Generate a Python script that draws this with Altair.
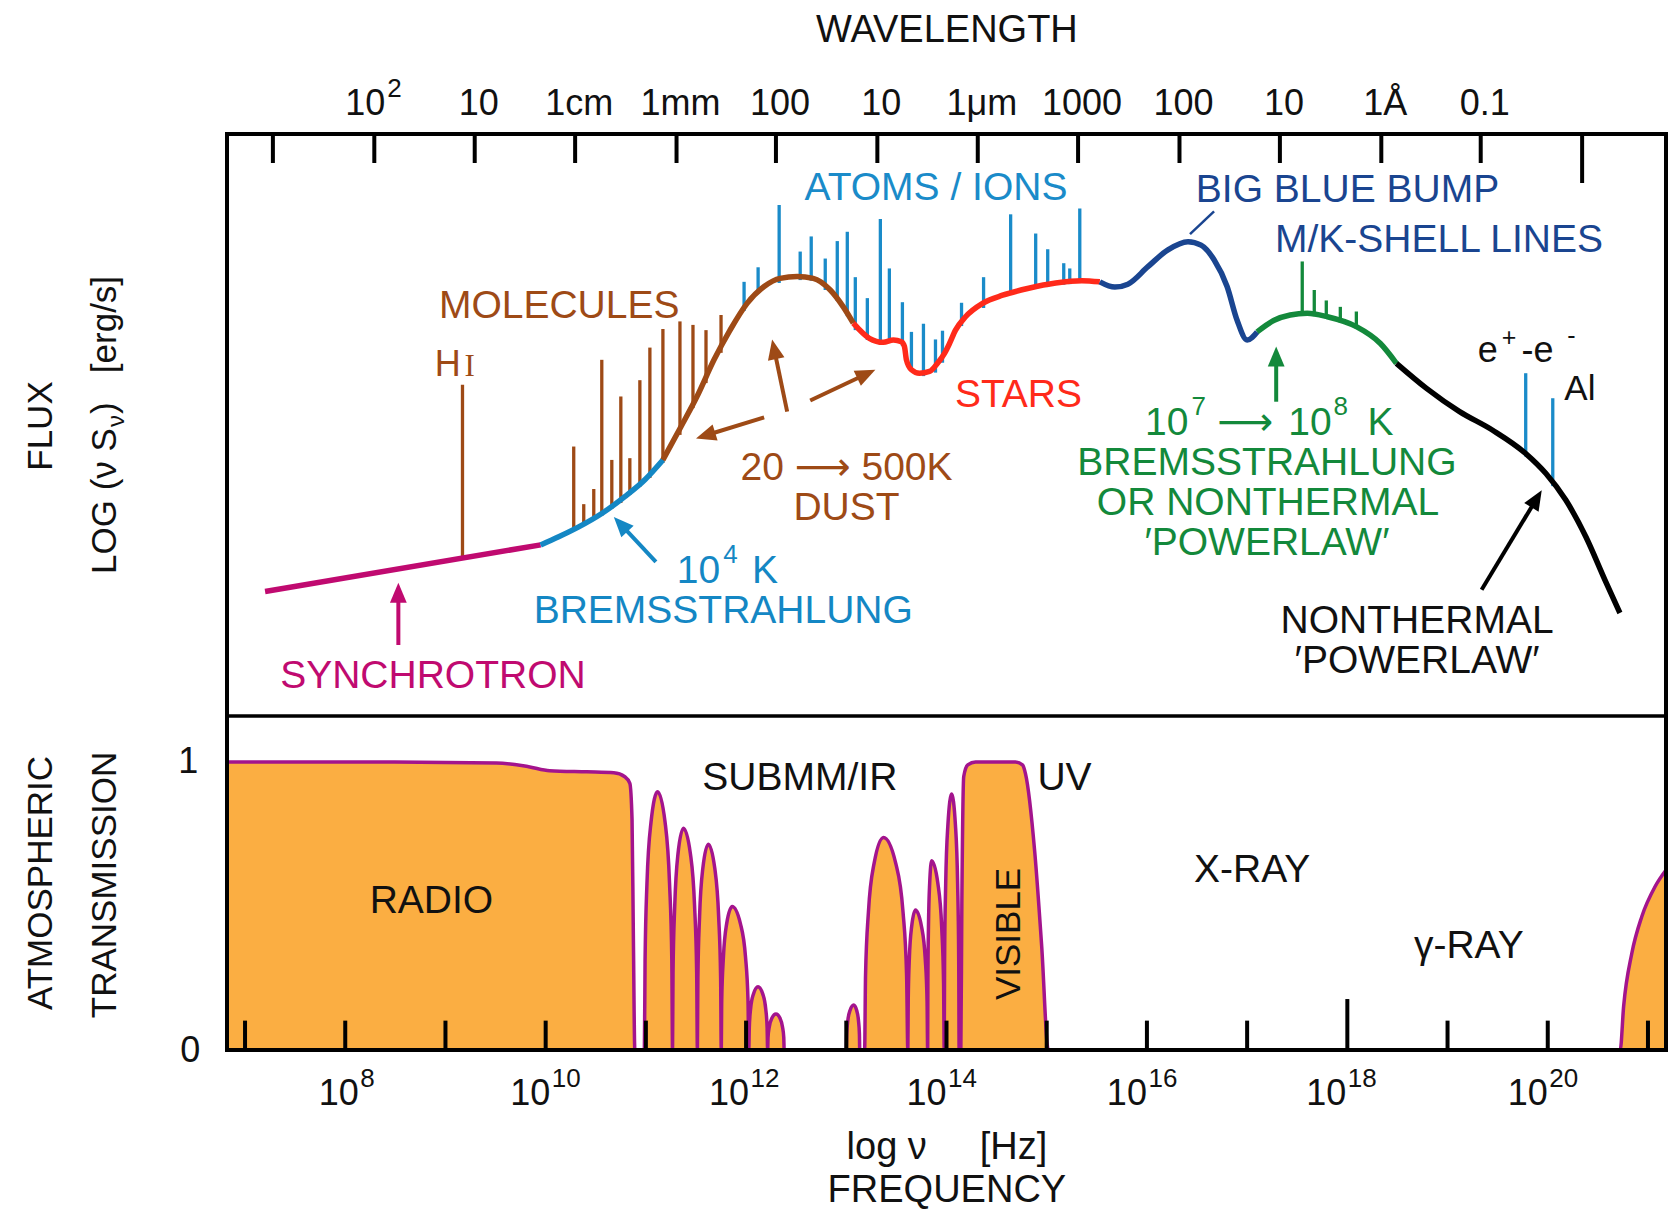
import math
import altair as alt
import pandas as pd

# ---------------- scales / layout ----------------
X_MIN, X_MAX = 6.82, 21.18          # log10 frequency [Hz]
V_MIN, V_MAX = 0.0, 10.0            # upper panel: relative log(nu S_nu), arbitrary units
T_MIN, T_MAX = 0.0, 1.16            # lower panel: atmospheric transmission
W, H, H_UP = 1439, 916, 582

SANS = "Liberation Sans, Arial, Helvetica, DejaVu Sans, sans-serif"
SERIF = "Liberation Serif, Times New Roman, serif"

C_SYN = "#C00A70"
C_BREM = "#1487C4"
C_ION = "#1A8BC9"
C_MOL = "#9E4A16"
C_STAR = "#FF2A1A"
C_BBB = "#1A4590"
C_GRN = "#13893B"
C_BLK = "#111111"
C_FILL = "#FBAE42"
C_EDGE = "#A3148D"

# ---------------- spectrum ----------------
synch_nu = [7.20, 9.95]
synch_f = [2.14, 2.94]
brems_nu = [9.95, 10.13, 10.33, 10.56, 10.79, 10.99, 11.17]
brems_f = [2.94, 3.08, 3.25, 3.48, 3.77, 4.06, 4.40]
dust_nu = [11.17, 11.35, 11.51, 11.68, 11.84, 12.01, 12.18, 12.34, 12.51, 12.67, 12.84, 12.97, 13.07]
dust_f = [4.40, 4.97, 5.49, 6.12, 6.63, 7.09, 7.38, 7.52, 7.55, 7.52, 7.32, 7.03, 6.75]
stars_nu = [13.07, 13.23, 13.37, 13.47, 13.55, 13.58, 13.60, 13.65, 13.73, 13.83, 13.91, 13.98,
            14.03, 14.09, 14.19, 14.36, 14.56, 14.82, 15.09, 15.35, 15.53]
stars_f = [6.75, 6.49, 6.42, 6.46, 6.43, 6.35, 6.12, 5.95, 5.89, 5.92, 6.06, 6.23,
           6.40, 6.63, 6.86, 7.09, 7.23, 7.35, 7.44, 7.48, 7.46]
bbb_nu = [15.53, 15.68, 15.81, 16.01, 16.21, 16.41, 16.54, 16.67, 16.80, 16.90, 17.00, 17.10]
bbb_f = [7.46, 7.37, 7.42, 7.72, 8.01, 8.15, 8.09, 7.84, 7.38, 6.80, 6.46, 6.60]
hot_nu = [17.10, 17.27, 17.43, 17.60, 17.80, 18.09, 18.33, 18.49]
hot_f = [6.60, 6.80, 6.89, 6.92, 6.86, 6.69, 6.40, 6.06]
pl_nu = [18.49, 18.79, 19.12, 19.45, 19.78, 19.98, 20.18, 20.38, 20.57, 20.72]
pl_f = [6.06, 5.63, 5.23, 4.91, 4.51, 4.17, 3.71, 3.08, 2.34, 1.77]

# emission lines: position, top, base
mol_nu = [10.28, 10.38, 10.48, 10.56, 10.66, 10.75, 10.84, 10.94, 11.04, 11.17, 11.34, 11.47, 11.60, 11.75]
mol_top = [4.63, 3.64, 3.90, 6.12, 4.40, 5.49, 4.43, 5.77, 6.33, 6.65, 6.78, 6.72, 6.63, 6.89]
mol_base = [3.18, 3.28, 3.37, 3.44, 3.56, 3.66, 3.80, 3.94, 4.09, 4.35, 4.83, 5.29, 5.72, 6.24]
hi_nu = [9.17]
hi_top = [5.69]
hi_base = [2.72]
ion_nu = [11.98, 12.12, 12.33, 12.54, 12.65, 12.79, 12.91, 13.01, 13.09, 13.21, 13.34, 13.43, 13.56,
          13.65, 13.77, 13.89, 13.96, 14.15, 14.37, 14.64, 14.89, 15.01, 15.17, 15.23, 15.33]
ion_top = [7.46, 7.71, 8.78, 7.98, 8.24, 7.86, 8.16, 8.32, 7.54, 7.18, 8.54, 7.69, 7.11,
           6.60, 6.74, 6.47, 6.62, 7.10, 7.54, 8.62, 8.29, 8.02, 7.78, 7.69, 8.72]
ion_base = [6.96, 7.27, 7.44, 7.49, 7.48, 7.32, 7.13, 6.87, 6.63, 6.46, 6.38, 6.41, 6.36,
            5.95, 5.84, 5.90, 6.07, 6.70, 7.01, 7.27, 7.34, 7.37, 7.41, 7.42, 7.44]
mk_nu = [17.55, 17.67, 17.79, 17.93, 18.09]
mk_top = [7.81, 7.32, 7.14, 7.03, 6.95]
mk_base = [6.88, 6.87, 6.83, 6.76, 6.65]
gam_nu = [19.78, 20.05]
gam_top = [5.89, 5.46]
gam_base = [4.46, 3.95]

# ---------------- atmospheric transmission ----------------
trans_nu = [6.82, 8.29, 9.51, 9.83, 10.04, 10.41, 10.68, 10.79, 10.84, 10.862, 10.875, 10.89,
            10.985, 10.992, 11.011, 11.051, 11.117, 11.192, 11.236, 11.259, 11.266,
            11.271, 11.288, 11.32, 11.375, 11.445, 11.486, 11.507, 11.514,
            11.519, 11.536, 11.568, 11.623, 11.688, 11.726, 11.746, 11.752,
            11.757, 11.774, 11.806, 11.861, 11.944, 11.994, 12.019, 12.027,
            12.032, 12.045, 12.073, 12.119, 12.167, 12.196, 12.21, 12.215,
            12.219, 12.232, 12.257, 12.298, 12.339, 12.363, 12.376, 12.38,
            13.0,
            13.004, 13.015, 13.037, 13.074, 13.104, 13.122, 13.131, 13.134,
            13.183,
            13.192, 13.221, 13.278, 13.372, 13.493, 13.566, 13.602, 13.614,
            13.618, 13.629, 13.652, 13.69, 13.751, 13.788, 13.806, 13.812,
            13.814, 13.82, 13.832, 13.852, 13.914, 13.952, 13.971, 13.977,
            13.981, 13.992, 14.014, 14.051, 14.089, 14.111, 14.122, 14.126,
            14.143, 14.153, 14.172, 14.212, 14.29, 14.688, 14.758, 14.788, 14.88, 14.95, 15.016,
            20.723, 20.757, 20.839, 20.938, 21.07, 21.18]
trans_T = [1.0, 1.0, 0.997, 0.984, 0.970, 0.966, 0.963, 0.949, 0.926, 0.80, 0.40, 0.0,
           0.0, 0.31, 0.58, 0.79, 0.897, 0.79, 0.58, 0.31, 0.0,
           0.27, 0.50, 0.68, 0.77, 0.68, 0.50, 0.27, 0.0,
           0.25, 0.465, 0.63, 0.715, 0.63, 0.465, 0.25, 0.0,
           0.174, 0.324, 0.438, 0.498, 0.438, 0.324, 0.174, 0.0,
           0.077, 0.143, 0.194, 0.22, 0.194, 0.143, 0.077, 0.0,
           0.044, 0.081, 0.11, 0.125, 0.11, 0.081, 0.044, 0.0,
           0.0,
           0.055, 0.101, 0.137, 0.156, 0.137, 0.101, 0.055, 0.0,
           0.0,
           0.258, 0.48, 0.649, 0.738, 0.649, 0.48, 0.258, 0.0,
           0.17, 0.316, 0.428, 0.486, 0.428, 0.316, 0.17, 0.0,
           0.23, 0.427, 0.578, 0.657, 0.578, 0.427, 0.23, 0.0,
           0.311, 0.578, 0.782, 0.889, 0.782, 0.578, 0.311, 0.0,
           0.0, 0.50, 0.95, 0.99, 1.0, 1.0, 0.99, 0.96, 0.69, 0.36, 0.0,
           0.0, 0.151, 0.336, 0.463, 0.567, 0.625]

# axis ticks
freq_ticks = [7, 8, 9, 10, 11, 12, 13, 14, 15, 16, 17, 18, 19, 20, 21]
freq_exps = ["8", "10", "12", "14", "16", "18", "20"]
freq_base_x = [8.134, 10.046, 12.03, 14.0, 16.0, 17.99, 20.0]
wave_ticks = [7.278, 8.290, 9.292, 10.294, 11.306, 12.298, 13.310, 14.312,
              15.313, 16.325, 17.327, 18.339, 19.331, 20.343]
wave_labels = ["", "", "10", "1cm", "1mm", "100", "10", "1\u03bcm", "1000", "100", "10", "1\u00c5", "0.1", ""]

# ---------------- chart building ----------------
XS = alt.Scale(domain=[X_MIN, X_MAX], nice=False, zero=False)
Y_UP = alt.Scale(domain=[V_MIN, V_MAX], range=[H_UP, 0], nice=False, zero=False)
Y_LO = alt.Scale(domain=[T_MIN, T_MAX], range=[H, H_UP], nice=False, zero=False)


def X(f):
    return alt.X(f, scale=XS, axis=None)


def YU(f):
    return alt.Y(f, scale=Y_UP, axis=None)


def YL(f, stack=False):
    if stack:
        return alt.Y(f, scale=Y_LO, axis=None, stack=None)
    return alt.Y(f, scale=Y_LO, axis=None)


layers = []

# lower panel transmission
tdf = pd.DataFrame({"nu": trans_nu, "T": trans_T})
layers.append(alt.Chart(tdf).mark_area(interpolate="monotone", color=C_FILL, opacity=1)
              .encode(x=X("nu:Q"), y=YL("T:Q", stack=True)))
layers.append(alt.Chart(tdf).mark_line(interpolate="monotone", color=C_EDGE, strokeWidth=3.5)
              .encode(x=X("nu:Q"), y=YL("T:Q")))

# emission lines
lrows = []
for nus, tops, bases, col in [(mol_nu, mol_top, mol_base, C_MOL), (hi_nu, hi_top, hi_base, C_MOL),
                              (ion_nu, ion_top, ion_base, C_ION), (mk_nu, mk_top, mk_base, C_GRN),
                              (gam_nu, gam_top, gam_base, C_ION)]:
    for a, t, b in zip(nus, tops, bases):
        lrows.append({"nu": a, "top": t, "base": b, "col": col})
ldf = pd.DataFrame(lrows)
layers.append(alt.Chart(ldf).mark_rule(strokeWidth=3.3)
              .encode(x=X("nu:Q"), y=YU("top:Q"), y2="base:Q", color=alt.Color("col:N", scale=None)))

# spectrum segments
srows = []
for name, col, xs_, ys_ in [("synch", C_SYN, synch_nu, synch_f), ("brems", C_BREM, brems_nu, brems_f),
                            ("dust", C_MOL, dust_nu, dust_f), ("stars", C_STAR, stars_nu, stars_f),
                            ("bbb", C_BBB, bbb_nu, bbb_f), ("hot", C_GRN, hot_nu, hot_f),
                            ("pl", "#000000", pl_nu, pl_f)]:
    for i, (a, b) in enumerate(zip(xs_, ys_)):
        srows.append({"seg": name, "col": col, "nu": a, "f": b, "i": i})
sdf = pd.DataFrame(srows)
layers.append(alt.Chart(sdf).mark_line(interpolate="monotone", strokeWidth=5.5, strokeCap="butt")
              .encode(x=X("nu:Q"), y=YU("f:Q"), detail="seg:N", order="i:Q",
                      color=alt.Color("col:N", scale=None)))

# BBB leader
layers.append(alt.Chart(pd.DataFrame({"x": [16.43], "y": [8.28], "x2": [16.67], "y2": [8.67]}))
              .mark_rule(color=C_BBB, strokeWidth=2.5)
              .encode(x=X("x:Q"), y=YU("y:Q"), x2="x2:Q", y2="y2:Q"))

# arrows (tail -> tip)
arrows = [(8.53, 1.22, 8.53, 2.29, C_SYN), (11.10, 2.65, 10.68, 3.42, C_BREM),
          (12.18, 5.13, 11.50, 4.77, C_MOL), (12.41, 5.23, 12.26, 6.47, C_MOL),
          (12.64, 5.42, 13.29, 5.95, C_MOL), (17.29, 5.40, 17.29, 6.35, C_GRN),
          (19.34, 2.17, 19.94, 3.88, "#000000")]
PX_X = W / (X_MAX - X_MIN)
PX_V = H_UP / (V_MAX - V_MIN)
HEAD = 20
arows = []
for x0, y0, x1, y1, col in arrows:
    dx = (x1 - x0) * PX_X
    dy = -(y1 - y0) * PX_V
    L = math.hypot(dx, dy)
    ux, uy = dx / L, dy / L
    ang = math.degrees(math.atan2(dx, -dy)) % 360
    arows.append({"x0": x0, "y0": y0, "xe": x1 - 0.7 * HEAD * ux / PX_X, "ye": y1 + 0.7 * HEAD * uy / PX_V,
                  "x1": x1, "y1": y1, "ang": ang, "col": col})
adf = pd.DataFrame(arows)
layers.append(alt.Chart(adf).mark_rule(strokeWidth=4)
              .encode(x=X("x0:Q"), y=YU("y0:Q"), x2="xe:Q", y2="ye:Q", color=alt.Color("col:N", scale=None)))
layers.append(alt.Chart(adf).mark_point(shape="M0,0L-0.42,1L0.42,1Z", filled=True, size=(2 * HEAD) ** 2,
                                        opacity=1, strokeWidth=0)
              .encode(x=X("x1:Q"), y=YU("y1:Q"), angle=alt.Angle("ang:Q", scale=None),
                      color=alt.Color("col:N", scale=None)))

# frame, divider and ticks
fr_up_h = pd.DataFrame({"x": [X_MIN, X_MIN], "x2": [X_MAX, X_MAX], "y": [V_MAX, V_MIN], "w": [4, 3.5]})
layers.append(alt.Chart(fr_up_h).mark_rule(color="black", strokeCap="square")
              .encode(x=X("x:Q"), x2="x2:Q", y=YU("y:Q"), strokeWidth=alt.StrokeWidth("w:Q", scale=None)))
fr_up_v = pd.DataFrame({"x": [X_MIN, X_MAX], "y": [V_MIN, V_MIN], "y2": [V_MAX, V_MAX]})
layers.append(alt.Chart(fr_up_v).mark_rule(color="black", strokeWidth=4, strokeCap="square")
              .encode(x=X("x:Q"), y=YU("y:Q"), y2="y2:Q"))
fr_lo = pd.DataFrame({"x": [X_MIN, X_MAX, X_MIN], "x2": [X_MIN, X_MAX, X_MAX],
                      "y": [T_MIN, T_MIN, T_MIN], "y2": [T_MAX, T_MAX, T_MIN]})
layers.append(alt.Chart(fr_lo).mark_rule(color="black", strokeWidth=4, strokeCap="square")
              .encode(x=X("x:Q"), x2="x2:Q", y=YL("y:Q"), y2="y2:Q"))
btick = pd.DataFrame({"x": freq_ticks, "y": [0.0] * len(freq_ticks),
                      "y2": [0.177 if t == 18 else 0.102 for t in freq_ticks]})
layers.append(alt.Chart(btick).mark_rule(color="black", strokeWidth=4)
              .encode(x=X("x:Q"), y=YL("y:Q"), y2="y2:Q"))
ttick = pd.DataFrame({"x": wave_ticks, "y": [V_MAX] * len(wave_ticks),
                      "y2": [9.158 if i == len(wave_ticks) - 1 else 9.502 for i in range(len(wave_ticks))]})
layers.append(alt.Chart(ttick).mark_rule(color="black", strokeWidth=4)
              .encode(x=X("x:Q"), y=YU("y:Q"), y2="y2:Q"))

# ---------------- text ----------------
S, SUP, TT, TK = 39, 26, 38, 36
NB = "\u00a0"
trows = []


def T(text, x, y, panel="up", color=C_BLK, size=S, align="center", angle=0, font=SANS):
    trows.append({"text": text, "x": x, "y": y, "panel": panel, "color": color, "size": size,
                  "align": align, "angle": angle, "font": font})


T("ATOMS / IONS", 13.895, 8.866, color=C_ION)
T("MOLECULES", 10.135, 6.838, color=C_MOL)
T("H", 9.153, 5.842, color=C_MOL, size=36, align="right")
T("I", 9.19, 5.842, color=C_MOL, size=31, align="left", font=SERIF)
T("20 \u27f6 500K", 13.002, 4.055, color=C_MOL)
T("DUST", 13.002, 3.368, color=C_MOL)
T("STARS", 14.718, 5.314, color=C_STAR)
T("BIG BLUE BUMP", 18.002, 8.837, color=C_BBB)
T("M/K-SHELL LINES", 18.915, 7.978, color=C_BBB)
T("10", 16.415, 4.828, color=C_GRN, align="right")
T("7", 16.444, 5.172, color=C_GRN, size=SUP, align="left")
T("\u27f6", 16.98, 4.828, color=C_GRN)
T("10", 17.843, 4.828, color=C_GRN, align="right")
T("8", 17.863, 5.172, color=C_GRN, size=SUP, align="left")
T("K", 18.20, 4.828, color=C_GRN, align="left")
T("BREMSSTRAHLUNG", 17.198, 4.141, color=C_GRN)
T("OR NONTHERMAL", 17.208, 3.454, color=C_GRN)
T("\u2032POWERLAW\u2032", 17.198, 2.766, color=C_GRN)
T("NONTHERMAL", 18.696, 1.421)
T("\u2032POWERLAW\u2032", 18.696, 0.734)
T("10", 11.742, 2.280, color=C_BREM, align="right")
T("4", 11.772, 2.629, color=C_BREM, size=SUP, align="left")
T("K", 12.06, 2.280, color=C_BREM, align="left")
T("BREMSSTRAHLUNG", 11.772, 1.598, color=C_BREM)
T("SYNCHROTRON", 8.875, 0.481, color=C_SYN)
T("e", 19.302, 6.082, size=36, align="left")
T("+", 19.54, 6.357, size=25, align="left")
T("-e", 19.738, 6.082, size=36, align="left")
T("-", 20.194, 6.392, size=25, align="left")
T("Al", 20.165, 5.430, size=35, align="left")

# top axis
T("WAVELENGTH", 14.004, 11.580, size=TT)
T("10", 8.399, 10.326, size=TK, align="right")
T("2", 8.419, 10.636, size=SUP, align="left")
for xv, lab in zip(wave_ticks, wave_labels):
    if lab:
        T(lab, xv + 0.04, 10.326, size=TK)

# left titles
T("FLUX", 5.075, 4.983, size=35, angle=270)
T("LOG (\u03bd S", 5.710, 2.440, size=35, align="left", angle=270)
T("\u03bd", 5.79, 4.966, size=24, align="left", angle=270)
T(")" + NB * 3 + "[erg/s]", 5.710, 5.189, size=35, align="left", angle=270)
T("ATMOSPHERIC", 5.075, 0.580, panel="lo", size=35, angle=270)
T("TRANSMISSION", 5.710, 0.573, panel="lo", size=35, angle=270)
T("1", 6.534, 0.962, panel="lo", size=TK, align="right")
T("0", 6.554, -0.042, panel="lo", size=TK, align="right")

# lower panel labels
T("SUBMM/IR", 12.536, 0.903, panel="lo")
T("UV", 14.907, 0.903, panel="lo", align="left")
T("RADIO", 8.860, 0.475, panel="lo")
T("VISIBLE", 14.738, 0.403, panel="lo", size=35, angle=270)
T("X-RAY", 17.05, 0.584, panel="lo")
T("\u03b3-RAY", 19.212, 0.319, panel="lo")

# bottom axis
for bx, e in zip(freq_base_x, freq_exps):
    T("10", bx, -0.191, panel="lo", size=TK, align="right")
    T(e, bx + 0.015, -0.128, panel="lo", size=SUP, align="left")
T("log \u03bd" + NB * 5 + "[Hz]", 14.004, -0.380, panel="lo", size=TT)
T("FREQUENCY", 14.004, -0.528, panel="lo", size=TT)

tdf_all = pd.DataFrame(trows)
for (panel, align, font), g in tdf_all.groupby(["panel", "align", "font"]):
    yenc = YU("y:Q") if panel == "up" else YL("y:Q")
    layers.append(alt.Chart(g).mark_text(align=align, baseline="alphabetic", font=font)
                  .encode(x=X("x:Q"), y=yenc, text="text:N",
                          color=alt.Color("color:N", scale=None),
                          size=alt.Size("size:Q", scale=None),
                          angle=alt.Angle("angle:Q", scale=None)))

chart = (alt.layer(*layers)
         .resolve_scale(y="independent")
         .properties(width=W, height=H,
                     padding={"left": 219, "top": 126, "right": 2, "bottom": 160},
                     autosize=alt.AutoSizeParams(type="none"))
         .configure_view(stroke=None))

chart.save("out.html", embed_options={"renderer": "svg", "actions": False})
